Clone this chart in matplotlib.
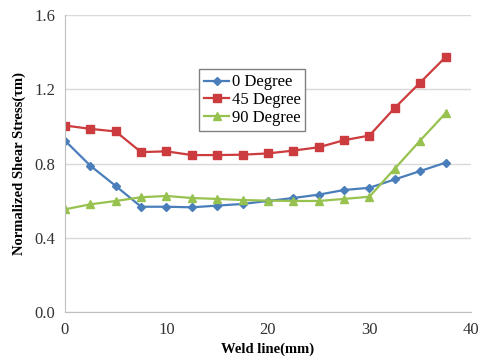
import matplotlib.pyplot as plt

plt.rcParams['font.family'] = ['Liberation Serif', 'DejaVu Serif']

weld = [0, 2.5, 5, 7.5, 10, 12.5, 15, 17.5, 20, 22.5, 25, 27.5, 30, 32.5, 35, 37.5]
deg0 = [0.924, 0.789, 0.680, 0.568, 0.568, 0.565, 0.574, 0.583, 0.599, 0.615,
        0.633, 0.658, 0.670, 0.715, 0.760, 0.805]
deg45 = [1.005, 0.987, 0.973, 0.862, 0.866, 0.846, 0.846, 0.848, 0.855, 0.870,
         0.888, 0.926, 0.951, 1.100, 1.236, 1.373]
deg90 = [0.554, 0.581, 0.599, 0.619, 0.626, 0.615, 0.610, 0.604, 0.601, 0.599,
         0.599, 0.610, 0.622, 0.773, 0.924, 1.071]

fig = plt.figure(figsize=(4.81, 3.64), dpi=100)
ax = fig.add_axes([0.135, 0.142, 0.844, 0.817])

ax.plot(weld, deg0, color='#4a7ebb', marker='D', markersize=4, lw=1.6, label='0 Degree')
ax.plot(weld, deg45, color='#cc3b3d', marker='s', markersize=6, lw=1.6, label='45 Degree')
ax.plot(weld, deg90, color='#98c24f', marker='^', markersize=6, lw=1.6, label='90 Degree')

ax.set_xlim(0, 40)
ax.set_ylim(0, 1.6)
ax.set_xticks([0, 10, 20, 30, 40])
ax.set_yticks([0.0, 0.4, 0.8, 1.2, 1.6])
ax.set_yticklabels(['0.0', '0.4', '0.8', '1.2', '1.6'])
ax.tick_params(length=0, labelsize=12, pad=7, colors='#333333')
ax.grid(axis='y', color='#d9d9d9', lw=1)
ax.set_axisbelow(True)
for s in ['top', 'right']:
    ax.spines[s].set_visible(False)
for s in ['left', 'bottom']:
    ax.spines[s].set_color('#bfbfbf')

ax.set_xlabel('Weld line(mm)', fontsize=10.5, fontweight='bold', labelpad=3)
ax.set_ylabel('Normalized Shear Stress(τm)', fontsize=10.5, fontweight='bold', labelpad=6)

leg = ax.legend(loc='upper left', bbox_to_anchor=(0.31, 0.845), fontsize=12,
                fancybox=False, framealpha=1, edgecolor='#808080',
                handlelength=1.5, handletextpad=0.15, borderpad=0.3, labelspacing=0.1)
leg.get_frame().set_linewidth(1)

fig.savefig('out.png', dpi=100)
